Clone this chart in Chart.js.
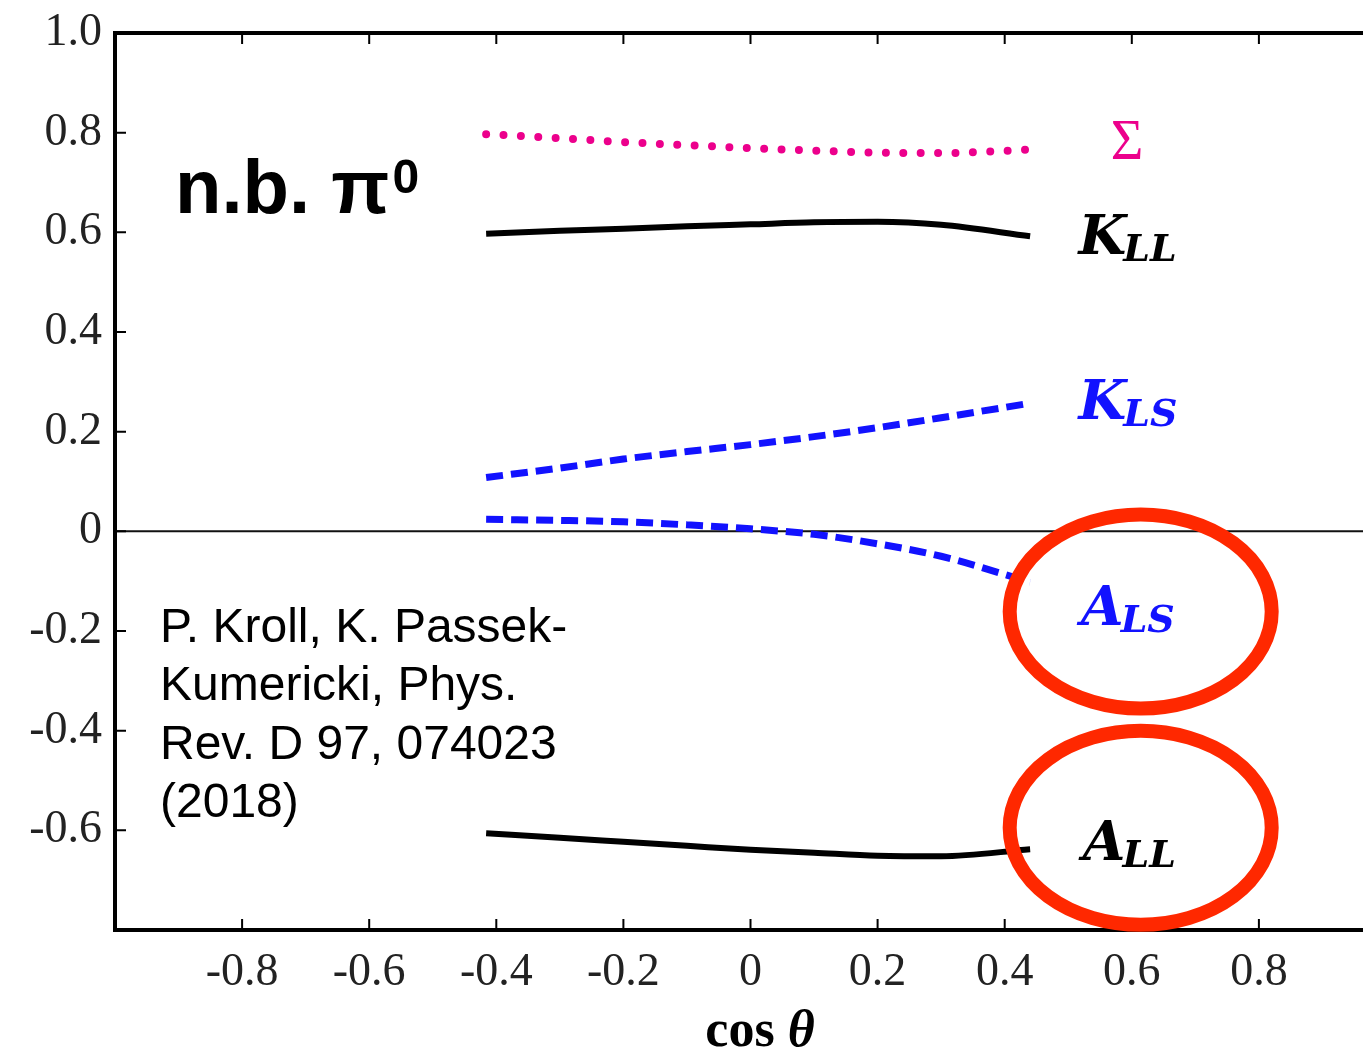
<!DOCTYPE html>
<html>
<head>
<meta charset="utf-8">
<script src="https://cdn.jsdelivr.net/npm/chart.js@4/dist/chart.umd.min.js"></script>
<style>
  html, body { margin: 0; padding: 0; background: #fff; overflow: hidden; }
  #wrap { width: 1390px; height: 1050px; }
</style>
</head>
<body>
<div id="wrap"><canvas id="chart" width="1390" height="1050"></canvas></div>
<script>
// cos(theta) sample points
var cosTheta = [-0.416, -0.3, -0.2, -0.1, 0, 0.1, 0.2, 0.3, 0.44];
var sigmaVals = [0.797, 0.789, 0.781, 0.775, 0.769, 0.764, 0.760, 0.759, 0.766];
var kllVals   = [0.597, 0.603, 0.607, 0.612, 0.616, 0.620, 0.621, 0.615, 0.592];
var klsVals   = [0.108, 0.127, 0.145, 0.160, 0.174, 0.190, 0.208, 0.228, 0.257];
var alsVals   = [0.024, 0.022, 0.019, 0.013, 0.005, -0.006, -0.025, -0.050, -0.102];
var allVals   = [-0.606, -0.615, -0.623, -0.631, -0.639, -0.645, -0.651, -0.652, -0.638];

var xTicks = [-0.8, -0.6, -0.4, -0.2, 0, 0.2, 0.4, 0.6, 0.8];
var yTicks = [-0.6, -0.4, -0.2, 0, 0.2, 0.4, 0.6, 0.8, 1.0];

var pink = 'rgb(236, 0, 140)';
var blue = 'rgb(18, 18, 255)';
var serif = '"Liberation Serif", "DejaVu Serif", serif';
var mathFont = '"DejaVu Serif", serif';
var sans = '"Liberation Sans", Arial, sans-serif';

function pts(ys) {
  return cosTheta.map(function (x, i) { return { x: x, y: ys[i] }; });
}

function mathLabel(ctx, main, sub, x, y, color) {
  ctx.fillStyle = color;
  ctx.textAlign = 'left';
  ctx.textBaseline = 'alphabetic';
  ctx.font = 'italic bold 55px ' + mathFont;
  ctx.fillText(main, x, y);
  var w = ctx.measureText(main).width;
  ctx.font = 'italic bold 38px ' + mathFont;
  ctx.fillText(sub, x + w - 3, y + 7);
}

var decorPlugin = {
  id: 'decor',
  beforeDatasetsDraw: function (chart) {
    var ctx = chart.ctx, a = chart.chartArea, ys = chart.scales.y;
    var y0 = ys.getPixelForValue(0);
    ctx.save();
    ctx.strokeStyle = '#111';
    ctx.lineWidth = 2;
    ctx.beginPath();
    ctx.moveTo(a.left, y0);
    ctx.lineTo(a.right, y0);
    ctx.stroke();
    ctx.restore();
  },
  afterDatasetsDraw: function (chart) {
    var ctx = chart.ctx, a = chart.chartArea;
    var xs = chart.scales.x, ys = chart.scales.y;
    ctx.save();

    // frame
    ctx.strokeStyle = '#000';
    ctx.lineWidth = 4;
    ctx.beginPath();
    ctx.moveTo(a.right, a.top);
    ctx.lineTo(a.left, a.top);
    ctx.lineTo(a.left, a.bottom);
    ctx.lineTo(a.right, a.bottom);
    ctx.stroke();

    // inward ticks
    ctx.lineWidth = 2;
    ctx.beginPath();
    xTicks.forEach(function (v) {
      var px = xs.getPixelForValue(v);
      ctx.moveTo(px, a.bottom);
      ctx.lineTo(px, a.bottom - 11);
      ctx.moveTo(px, a.top);
      ctx.lineTo(px, a.top + 11);
    });
    yTicks.forEach(function (v) {
      var py = ys.getPixelForValue(v);
      ctx.moveTo(a.left, py);
      ctx.lineTo(a.left + 11, py);
    });
    ctx.stroke();

    // curve labels
    ctx.fillStyle = pink;
    ctx.font = '56px ' + serif;
    ctx.textAlign = 'left';
    ctx.fillText('\u03A3', xs.getPixelForValue(0.567), ys.getPixelForValue(0.748));
    mathLabel(ctx, 'K', 'LL', xs.getPixelForValue(0.516), ys.getPixelForValue(0.557), '#000');
    mathLabel(ctx, 'K', 'LS', xs.getPixelForValue(0.516), ys.getPixelForValue(0.225), blue);
    mathLabel(ctx, 'A', 'LS', xs.getPixelForValue(0.520), ys.getPixelForValue(-0.187), blue);
    mathLabel(ctx, 'A', 'LL', xs.getPixelForValue(0.523), ys.getPixelForValue(-0.659), '#000');

    // hand-drawn style highlight rings
    ctx.strokeStyle = 'rgb(255, 40, 0)';
    ctx.lineWidth = 14;
    [[0.614, -0.161], [0.614, -0.595]].forEach(function (c) {
      ctx.beginPath();
      ctx.ellipse(xs.getPixelForValue(c[0]), ys.getPixelForValue(c[1]), 131, 97, 0, 0, Math.PI * 2);
      ctx.stroke();
    });

    // annotations
    ctx.fillStyle = '#000';
    ctx.font = 'bold 76px ' + sans;
    ctx.fillText('n.b. \u03C0', 175, 213);
    var w = ctx.measureText('n.b. \u03C0').width;
    ctx.font = 'bold 48px ' + sans;
    ctx.fillText('0', 175 + w + 3, 193);

    ctx.font = '48px ' + sans;
    ['P. Kroll, K. Passek-', 'Kumericki, Phys.', 'Rev. D 97, 074023', '(2018)'].forEach(function (t, i) {
      ctx.fillText(t, 160, 642 + i * 58.3);
    });

    // axis title
    ctx.font = 'bold 52px ' + serif;
    var cw = ctx.measureText('cos ').width;
    ctx.font = 'italic bold 52px ' + serif;
    var tw = ctx.measureText('\u03B8').width;
    var sx = 760 - (cw + tw) / 2;
    ctx.font = 'bold 52px ' + serif;
    ctx.fillText('cos ', sx, 1046);
    ctx.font = 'italic bold 52px ' + serif;
    ctx.fillText('\u03B8', sx + cw, 1046);

    ctx.restore();
  }
};

new Chart(document.getElementById('chart'), {
  type: 'line',
  data: {
    datasets: [
      { label: 'Sigma', data: pts(sigmaVals), borderColor: pink, borderWidth: 8, borderDash: [0, 17.4], borderCapStyle: 'round' },
      { label: 'K_LL', data: pts(kllVals), borderColor: '#000', borderWidth: 6 },
      { label: 'K_LS', data: pts(klsVals), borderColor: blue, borderWidth: 7, borderDash: [17, 8] },
      { label: 'A_LS', data: pts(alsVals), borderColor: blue, borderWidth: 7, borderDash: [17, 8] },
      { label: 'A_LL', data: pts(allVals), borderColor: '#000', borderWidth: 6 }
    ]
  },
  options: {
    responsive: false,
    animation: false,
    devicePixelRatio: 1,
    layout: { padding: { top: 33, right: 4, left: 0, bottom: 0 } },
    elements: { point: { radius: 0 }, line: { cubicInterpolationMode: 'monotone', fill: false } },
    plugins: { legend: { display: false }, tooltip: { enabled: false } },
    scales: {
      x: {
        type: 'linear',
        min: -1, max: 1,
        grid: { display: false, drawTicks: false },
        border: { display: false },
        afterBuildTicks: function (s) { s.ticks = xTicks.map(function (v) { return { value: v }; }); },
        afterFit: function (s) { s.height = 120; s.paddingLeft = 0; s.paddingRight = 0; },
        ticks: {
          color: '#222',
          padding: 15,
          font: { family: serif, size: 46 },
          maxRotation: 0,
          callback: function (v) { return v === 0 ? '0' : v.toFixed(1); }
        }
      },
      y: {
        type: 'linear',
        min: -0.8, max: 1.0,
        grid: { display: false, drawTicks: false },
        border: { display: false },
        afterBuildTicks: function (s) { s.ticks = yTicks.map(function (v) { return { value: v }; }); },
        afterFit: function (s) { s.width = 115; s.paddingTop = 0; s.paddingBottom = 0; },
        ticks: {
          color: '#222',
          padding: 13,
          font: { family: serif, size: 46 },
          callback: function (v) { return v === 0 ? '0' : v.toFixed(1); }
        }
      }
    }
  },
  plugins: [decorPlugin]
});
</script>
</body>
</html>
